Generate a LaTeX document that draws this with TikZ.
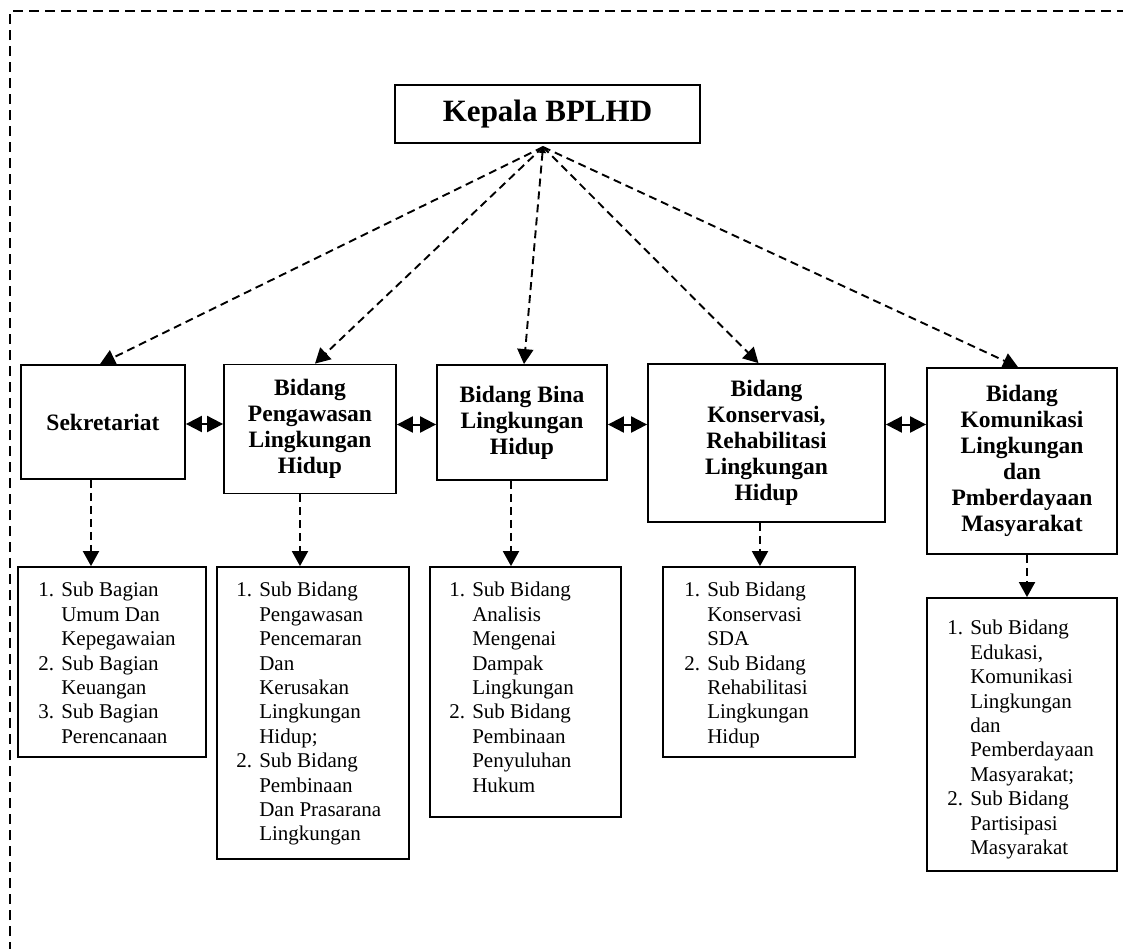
\documentclass[tikz,border=0pt]{standalone}
\usepackage{fontspec}
\setmainfont{Liberation Serif}
\usetikzlibrary{arrows.meta,calc}
\newcommand{\itm}[1]{\makebox[23pt][l]{#1}}
\begin{document}
\begin{tikzpicture}[x=1pt,y=-1pt,
  box/.style={draw, line width=1.8pt, rectangle, inner sep=0pt, align=center,
    font=\bfseries\fontsize{23.5}{26}\selectfont},
  subtext/.style={anchor=north west, inner sep=0pt, align=left,
    font=\fontsize{21}{24.4}\selectfont},
  dasharrow/.style={line width=1.9pt, dash pattern=on 8pt off 5pt,
    -{Triangle[length=15pt,width=16pt]}},
  dblarrow/.style={line width=2pt,
    {Triangle[length=16pt,width=16pt]}-{Triangle[length=16pt,width=16pt]}},
  frame/.style={line width=2pt, dash pattern=on 10pt off 6pt}]
\useasboundingbox (0,0) rectangle (1123,948);
\draw[frame] (10,952) -- (10,11) -- (1130,11);

% top box
\node[box, minimum width=305pt, minimum height=58pt,
  font=\bfseries\fontsize{31}{34}\selectfont] (kepala) at (547.5,114) {Kepala BPLHD};
\coordinate (hub) at (543,147);

% bidang boxes
\node[box, minimum width=164pt, minimum height=114pt] (sek) at (103,422) {Sekretariat};
\node[box, minimum width=172pt, minimum height=129pt] (peng) at (310,429) {Bidang\\Pengawasan\\Lingkungan\\Hidup};
\node[box, minimum width=170pt, minimum height=115pt] (bina) at (522,422.5) {Bidang Bina\\Lingkungan\\Hidup};
\node[box, minimum width=237pt, minimum height=158pt] (kons) at (766.5,443) {Bidang\\Konservasi,\\Rehabilitasi\\Lingkungan\\Hidup};
\node[box, minimum width=190pt, minimum height=186pt] (kom) at (1022,461) {Bidang\\Komunikasi\\Lingkungan\\dan\\Pmberdayaan\\Masyarakat};

% sub boxes
\node[box, minimum width=188pt, minimum height=190pt] (sub1) at (112,662) {};
\node[box, minimum width=192pt, minimum height=292pt] (sub2) at (313,713) {};
\node[box, minimum width=191pt, minimum height=250pt] (sub3) at (525.5,692) {};
\node[box, minimum width=192pt, minimum height=190pt] (sub4) at (759,662) {};
\node[box, minimum width=190pt, minimum height=273pt] (sub5) at (1022,734.5) {};

\node[subtext] (t1) at ([xshift=21pt,yshift=-16pt]sub1.north west)
 {\itm{1.}Sub Bagian\\\itm{}Umum Dan\\\itm{}Kepegawaian\\\itm{2.}Sub Bagian\\\itm{}Keuangan\\\itm{3.}Sub Bagian\\\itm{}Perencanaan};
\node[subtext] (t2) at ([xshift=20pt,yshift=-16pt]sub2.north west)
 {\itm{1.}Sub Bidang\\\itm{}Pengawasan\\\itm{}Pencemaran\\\itm{}Dan\\\itm{}Kerusakan\\\itm{}Lingkungan\\\itm{}Hidup;\\\itm{2.}Sub Bidang\\\itm{}Pembinaan\\\itm{}Dan Prasarana\\\itm{}Lingkungan};
\node[subtext] (t3) at ([xshift=20pt,yshift=-16pt]sub3.north west)
 {\itm{1.}Sub Bidang\\\itm{}Analisis\\\itm{}Mengenai\\\itm{}Dampak\\\itm{}Lingkungan\\\itm{2.}Sub Bidang\\\itm{}Pembinaan\\\itm{}Penyuluhan\\\itm{}Hukum};
\node[subtext] (t4) at ([xshift=22pt,yshift=-16pt]sub4.north west)
 {\itm{1.}Sub Bidang\\\itm{}Konservasi\\\itm{}SDA\\\itm{2.}Sub Bidang\\\itm{}Rehabilitasi\\\itm{}Lingkungan\\\itm{}Hidup};
\node[subtext] (t5) at ([xshift=21pt,yshift=-23pt]sub5.north west)
 {\itm{1.}Sub Bidang\\\itm{}Edukasi,\\\itm{}Komunikasi\\\itm{}Lingkungan\\\itm{}dan\\\itm{}Pemberdayaan\\\itm{}Masyarakat;\\\itm{2.}Sub Bidang\\\itm{}Partisipasi\\\itm{}Masyarakat};

% from head to bidang
\draw[dasharrow] (hub) -- ([xshift=-3pt]sek.north);
\draw[dasharrow] (hub) -- ([xshift=5pt]peng.north);
\draw[dasharrow, {Triangle[length=6pt,width=7pt]}-{Triangle[length=15pt,width=16pt]}] (hub) -- ([xshift=2pt]bina.north);
\draw[dasharrow] (hub) -- ([xshift=-8pt]kons.north);
\draw[dasharrow] (hub) -- ([xshift=-4pt]kom.north);

% horizontal links
\draw[dblarrow] ([yshift=-2pt]sek.east) -- ([yshift=-2pt]sek.east -| peng.west);
\draw[dblarrow] ([yshift=-2pt]bina.west -| peng.east) -- ([yshift=-2pt]bina.west);
\draw[dblarrow] ([yshift=-2pt]bina.east) -- ([yshift=-2pt]bina.east -| kons.west);
\draw[dblarrow] ([yshift=-2pt]bina.east -| kons.east) -- ([yshift=-2pt]bina.east -| kom.west);

% down to sub boxes
\draw[dasharrow] ([xshift=-12pt]sek.south) -- ([xshift=-12pt]sek.south |- sub1.north);
\draw[dasharrow] ([xshift=-10pt]peng.south) -- ([xshift=-10pt]peng.south |- sub2.north);
\draw[dasharrow] ([xshift=-11pt]bina.south) -- ([xshift=-11pt]bina.south |- sub3.north);
\draw[dasharrow] ([xshift=-6.5pt]kons.south) -- ([xshift=-6.5pt]kons.south |- sub4.north);
\draw[dasharrow] ([xshift=5pt]kom.south) -- ([xshift=5pt]kom.south |- sub5.north);
\end{tikzpicture}
\end{document}
